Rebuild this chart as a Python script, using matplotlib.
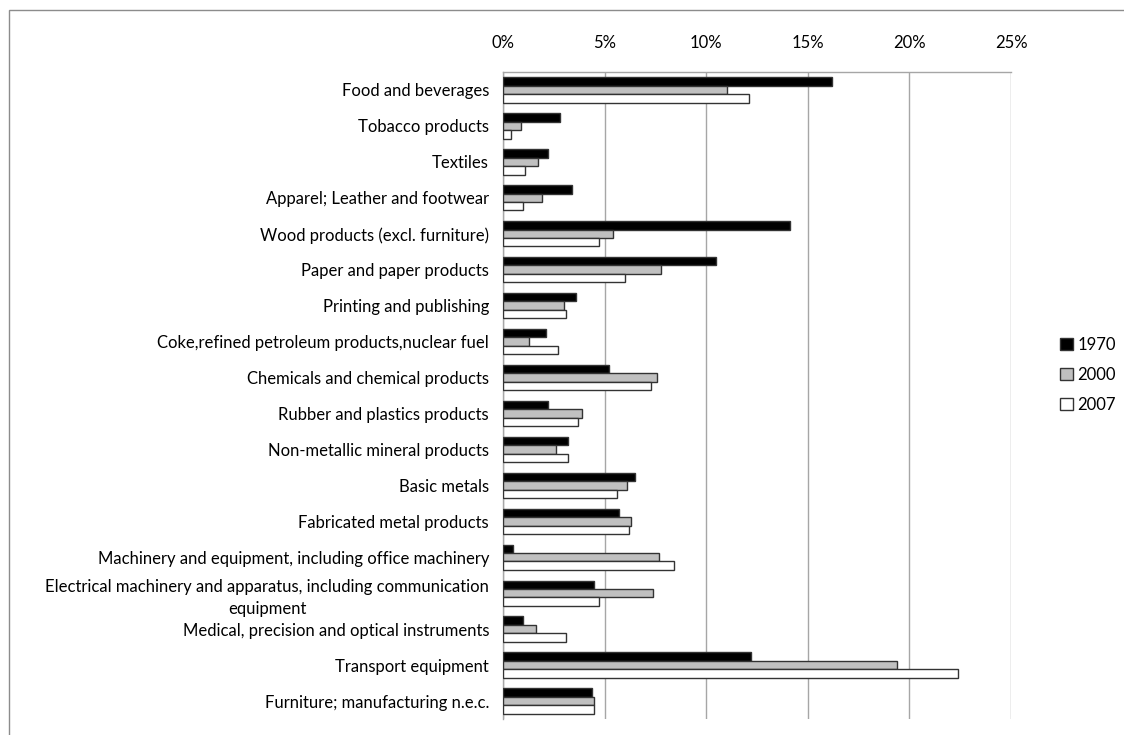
import numpy as np
import matplotlib
matplotlib.use("Agg")
import matplotlib.pyplot as plt
from matplotlib.patches import Rectangle
from matplotlib.ticker import FuncFormatter

plt.rcParams['font.family'] = ['Lato', 'DejaVu Sans']

# Industry shares of manufacturing, %
industries = [
    "Food and beverages",
    "Tobacco products",
    "Textiles",
    "Apparel; Leather and footwear",
    "Wood products (excl. furniture)",
    "Paper and paper products",
    "Printing and publishing",
    "Coke,refined petroleum products,nuclear fuel",
    "Chemicals and chemical products",
    "Rubber and plastics products",
    "Non-metallic mineral products",
    "Basic metals",
    "Fabricated metal products",
    "Machinery and equipment, including office machinery",
    "Electrical machinery and apparatus, including communication\nequipment",
    "Medical, precision and optical instruments",
    "Transport equipment",
    "Furniture; manufacturing n.e.c.",
]
years = ["1970", "2000", "2007"]
share_1970 = [16.2, 2.8, 2.2, 3.4, 14.1, 10.5, 3.6, 2.1, 5.2, 2.2, 3.2, 6.5, 5.7, 0.5, 4.5, 1.0, 12.2, 4.4]
share_2000 = [11.0, 0.9, 1.7, 1.9, 5.4, 7.8, 3.0, 1.3, 7.6, 3.9, 2.6, 6.1, 6.3, 7.7, 7.4, 1.6, 19.4, 4.5]
share_2007 = [12.1, 0.4, 1.1, 1.0, 4.7, 6.0, 3.1, 2.7, 7.3, 3.7, 3.2, 5.6, 6.2, 8.4, 4.7, 3.1, 22.4, 4.5]

fills = ["#000000", "#c0c0c0", "#ffffff"]

fig = plt.figure(figsize=(11.24, 7.35), dpi=100)
ax = fig.add_axes([503 / 1124, 1 - 719 / 735, 508 / 1124, 647 / 735])

y = np.arange(len(industries))
h = 0.235
for k, (vals, col) in enumerate(zip([share_1970, share_2000, share_2007], fills)):
    ax.barh(y + (k - 1) * h, vals, height=h, color=col, edgecolor="#333333",
            linewidth=1.0, label=years[k], zorder=3)

ax.set_xlim(0, 25)
ax.set_ylim(len(industries) - 0.5, -0.5)
ax.set_xticks(np.arange(0, 26, 5))
ax.xaxis.set_major_formatter(FuncFormatter(lambda v, p: f"{v:.0f}%"))
ax.xaxis.tick_top()
ax.grid(axis="x", color="#a6a6a6", linewidth=1.0, zorder=0)
ax.tick_params(axis="x", length=0, pad=15, labelsize=12)
ax.tick_params(axis="y", length=0, pad=10, labelsize=12)

ax.set_yticks(y)
ax.set_yticklabels(industries)
for lab in ax.get_yticklabels():
    lab.set_multialignment("center")
    lab.set_linespacing(1.5)

for side in ["right", "bottom"]:
    ax.spines[side].set_visible(False)
for side in ["left", "top"]:
    ax.spines[side].set_color("#a6a6a6")
    ax.spines[side].set_linewidth(1.0)

# outer chart frame
fig.patches.append(Rectangle((9 / 1124, -0.01), 1.2, 1 - 10 / 735 + 0.01,
                             transform=fig.transFigure, fill=False,
                             edgecolor="#8c8c8c", linewidth=1.0))

fig.legend(loc="center left", bbox_to_anchor=(1045 / 1124, 1 - 375 / 735),
           frameon=False, fontsize=12, handlelength=0.75, handleheight=0.75,
           handletextpad=0.3, labelspacing=0.85)

fig.savefig("out.png", dpi=100)
